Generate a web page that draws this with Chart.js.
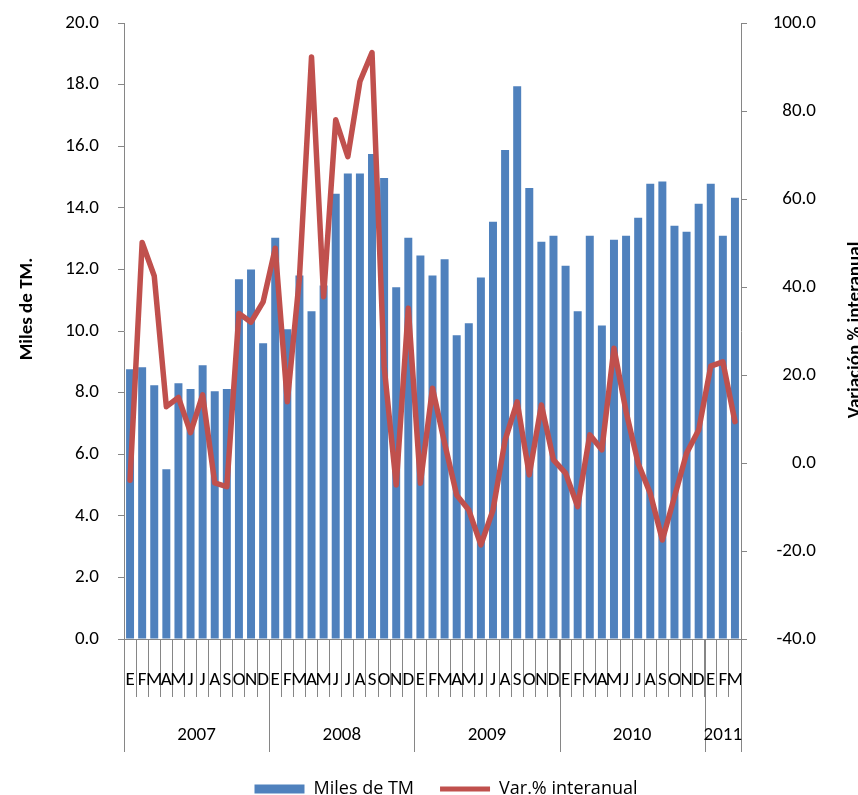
<!DOCTYPE html>
<html>
<head>
<meta charset="utf-8">
<script src="https://cdn.jsdelivr.net/npm/chart.js@4.4.1/dist/chart.umd.min.js"></script>
<style>
  html, body { margin: 0; padding: 0; background: #fff; overflow: hidden; }
  #wrap { width: 858px; height: 795px; position: relative; }
</style>
</head>
<body>
<div id="wrap"><canvas id="mainChart"></canvas></div>
<script>
const monthLetters = ["E", "F", "M", "A", "M", "J", "J", "A", "S", "O", "N", "D"];
const months = [].concat(monthLetters, monthLetters, monthLetters, monthLetters, ["E", "F", "M"]);
const years = ["2007", "2008", "2009", "2010", "2011"];
const monthsPerYear = [12, 12, 12, 12, 3];

// Miles de TM
const tons = [
  8.76, 8.82, 8.24, 5.51, 8.30, 8.12, 8.89, 8.04, 8.12, 11.68, 12.00, 9.60,
  13.03, 10.06, 11.80, 10.64, 11.48, 14.46, 15.11, 15.11, 15.75, 14.97, 11.42, 13.03,
  12.45, 11.80, 12.33, 9.86, 10.25, 11.74, 13.55, 15.88, 17.95, 14.64, 12.90, 13.09,
  12.12, 10.64, 13.09, 10.18, 12.96, 13.09, 13.68, 14.78, 14.85, 13.42, 13.22, 14.13,
  14.78, 13.09, 14.33
];

// Var.% interanual
const yoy = [
  -3.9, 50.1, 42.5, 12.8, 14.9, 6.9, 15.5, -4.5, -5.4, 34.0, 32.0, 36.6,
  48.8, 13.9, 42.0, 92.3, 37.8, 78.0, 69.6, 86.7, 93.3, 22.0, -5.0, 35.2,
  -4.6, 17.0, 4.5, -7.3, -10.7, -18.6, -10.7, 5.2, 13.9, -2.7, 13.2, 0.7,
  -2.3, -9.9, 6.4, 3.0, 26.1, 11.7, -0.1, -6.9, -17.5, -7.7, 2.2, 7.5,
  22.0, 23.0, 9.4
];

const FONT = "Carlito, Calibri, Lato, sans-serif";
const LEGEND_FONT = "'Open Sans', sans-serif";
const AXIS_GRAY = "#868686";

// year row, separators and axis titles under/beside the plot
const extras = {
  id: "extras",
  afterLayout(chart) {
    // excel puts the legend a bit right of centre
    chart.legend.left += 38;
    chart.legend.right += 38;
  },
  afterDraw(chart) {
    const { ctx, chartArea } = chart;
    const x = chart.scales.x;
    const half = (x.getPixelForValue(1) - x.getPixelForValue(0)) / 2;
    const bottom = chartArea.bottom;
    ctx.save();
    ctx.strokeStyle = AXIS_GRAY;
    ctx.lineWidth = 1;
    ctx.fillStyle = "#000";
    ctx.font = "19px " + FONT;
    ctx.textAlign = "center";
    ctx.textBaseline = "middle";
    let start = 0;
    const x0 = Math.round(x.getPixelForValue(0) - half) + 0.5;
    ctx.beginPath();
    ctx.moveTo(x0, bottom);
    ctx.lineTo(x0, bottom + 113);
    ctx.stroke();
    years.forEach((yr, k) => {
      const end = start + monthsPerYear[k];
      const left = x.getPixelForValue(start) - half;
      const right = x.getPixelForValue(end - 1) + half;
      ctx.beginPath();
      ctx.moveTo(Math.round(right) + 0.5, bottom);
      ctx.lineTo(Math.round(right) + 0.5, bottom + 113);
      ctx.stroke();
      ctx.fillText(yr, (left + right) / 2, bottom + 96);
      start = end;
    });

    ctx.font = "bold 19px " + FONT;
    ctx.translate(27, 309);
    ctx.rotate(-Math.PI / 2);
    ctx.fillText("Miles de TM.", 0, 0);
    ctx.setTransform(1, 0, 0, 1, 0, 0);
    ctx.translate(855, 330);
    ctx.rotate(-Math.PI / 2);
    ctx.fillText("Variación % interanual", 0, 0);
    ctx.restore();
  }
};

const noPad = (s) => { s.paddingTop = 0; s.paddingBottom = 0; };

const ctx = document.getElementById("mainChart").getContext("2d");
new Chart(ctx, {
  type: "bar",
  data: {
    labels: months,
    datasets: [
      {
        type: "bar",
        label: "Miles de TM",
        data: tons,
        backgroundColor: "#4F81BD",
        borderColor: "#4F81BD",
        borderWidth: 0,
        barPercentage: 0.66,
        categoryPercentage: 1.0,
        yAxisID: "y",
        order: 1,
      },
      {
        type: "line",
        label: "Var.% interanual",
        data: yoy,
        borderColor: "#C0504D",
        backgroundColor: "#C0504D",
        borderWidth: 5.5,
        pointRadius: 0,
        tension: 0,
        borderJoinStyle: "round",
        borderCapStyle: "round",
        yAxisID: "y1",
        order: 0,
      },
    ],
  },
  options: {
    responsive: true,
    maintainAspectRatio: false,
    animation: false,
    layout: { padding: { top: 23, left: 0, right: 42, bottom: -13 } },
    plugins: {
      tooltip: { enabled: false },
      legend: {
        position: "bottom",
        labels: {
          usePointStyle: true,
          pointStyleWidth: 50,
          boxHeight: 9,
          padding: 26,
          color: "#000",
          font: { family: LEGEND_FONT, size: 18 },
          sort: (a, b) => a.datasetIndex - b.datasetIndex,
          generateLabels: (chart) =>
            chart.data.datasets.map((ds, i) => ({
              text: ds.label,
              fillStyle: ds.backgroundColor,
              strokeStyle: ds.borderColor,
              lineWidth: ds.type === "line" ? 5 : 0,
              pointStyle: ds.type === "line" ? "line" : "rect",
              datasetIndex: i,
              hidden: false,
            })),
        },
      },
    },
    scales: {
      x: {
        offset: true,
        grid: {
          offset: true,
          drawOnChartArea: false,
          tickLength: 58,
          color: AXIS_GRAY,
        },
        border: { color: AXIS_GRAY },
        ticks: {
          autoSkip: false,
          maxRotation: 0,
          minRotation: 0,
          padding: -28,
          color: "#000",
          font: { family: FONT, size: 19 },
        },
        afterFit: (s) => { s.height = 115; },
      },
      y: {
        position: "left",
        min: 0,
        max: 20,
        grid: { drawOnChartArea: false, tickLength: 6, color: AXIS_GRAY },
        border: { color: AXIS_GRAY },
        ticks: {
          stepSize: 2,
          padding: 19,
          color: "#000",
          font: { family: FONT, size: 19 },
          callback: (v) => v.toFixed(1),
        },
        afterFit: (s) => { s.width = 124; noPad(s); },
      },
      y1: {
        position: "right",
        min: -40,
        max: 100,
        grid: { drawOnChartArea: false, tickLength: 6, color: AXIS_GRAY },
        border: { color: AXIS_GRAY },
        ticks: {
          stepSize: 20,
          padding: 14,
          crossAlign: "far",
          color: "#000",
          font: { family: FONT, size: 19 },
          callback: (v) => v.toFixed(1),
        },
        afterFit: (s) => { s.width = 75; noPad(s); },
      },
    },
  },
  plugins: [extras],
});
</script>
</body>
</html>
